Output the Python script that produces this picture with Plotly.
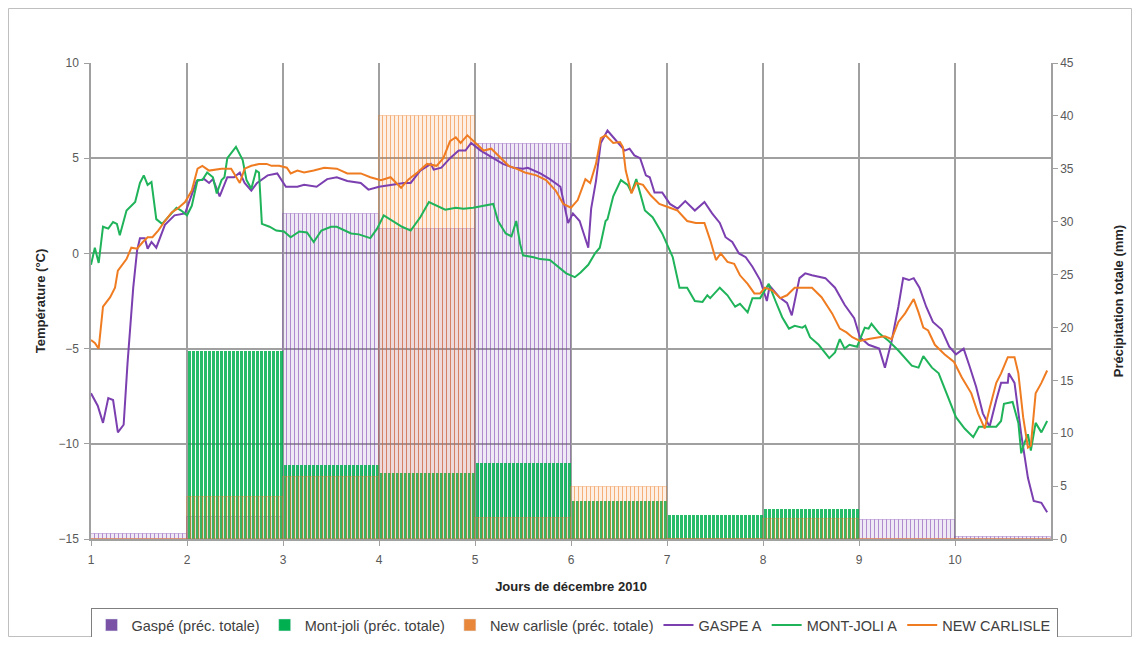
import plotly.graph_objects as go

# ---------------- data ----------------
days = [1, 2, 3, 4, 5, 6, 7, 8, 9, 10]
tick_labels = ["1", "2", "3", "4", "5", "6", "7", "8", "9", "10"]

# daily total precipitation (mm), shown for every hour of the day
precip_gaspe = [0.5, 2.1, 30.7, 29.3, 37.3, 0.0, 0.0, 0.0, 1.8, 0.2]
precip_montjoli = [0.0, 17.8, 7.0, 6.2, 7.2, 3.6, 2.3, 2.8, 0.0, 0.0]
precip_newcarlisle = [0.0, 4.0, 5.9, 40.0, 2.0, 4.9, 0.0, 1.9, 0.0, 0.0]

# hourly temperatures (°C), time in days
t_gaspe = [1.0, 1.07, 1.125, 1.18, 1.23, 1.28, 1.34, 1.38, 1.44, 1.48, 1.51, 1.56, 1.59, 1.63, 1.68, 1.77, 1.87, 1.98,
           2.10, 2.18, 2.23, 2.27, 2.34, 2.42, 2.49, 2.55, 2.60, 2.67, 2.73, 2.84, 2.94, 3.03, 3.15, 3.22, 3.35, 3.46,
           3.56, 3.67, 3.81, 3.89, 4.0, 4.13, 4.26, 4.33, 4.43, 4.54, 4.57, 4.65, 4.74, 4.83, 4.90, 4.96, 5.06, 5.16,
           5.29, 5.40, 5.50, 5.55, 5.68, 5.78, 5.89, 5.97, 6.02, 6.09, 6.18, 6.21, 6.26, 6.31, 6.38, 6.44, 6.49, 6.56,
           6.61, 6.66, 6.72, 6.78, 6.82, 6.87, 6.95, 7.03, 7.11, 7.19, 7.29, 7.39, 7.47, 7.55, 7.61, 7.68, 7.75, 7.82,
           7.89, 7.97, 8.04, 8.07, 8.17, 8.25, 8.30, 8.38, 8.44, 8.51, 8.65, 8.75, 8.85, 8.95, 9.01, 9.10, 9.21, 9.27,
           9.34, 9.41, 9.46, 9.52, 9.57, 9.63, 9.70, 9.77, 9.86, 9.94, 10.01, 10.09, 10.15, 10.22, 10.29, 10.36, 10.43,
           10.48, 10.55, 10.56, 10.62, 10.69, 10.76, 10.82, 10.90, 10.96]
temp_gaspe = [-7.35, -8.0, -8.9, -7.6, -7.7, -9.4, -9.0, -5.8, -1.8, 0.15, 0.8, 0.8, 0.25, 0.6, 0.3, 1.5, 2.0, 2.1,
              3.8, 3.9, 3.7, 3.9, 3.0, 4.0, 4.0, 4.25, 3.7, 3.3, 3.7, 4.1, 4.2, 3.5, 3.5, 3.6, 3.5, 3.9,
              4.0, 3.8, 3.7, 3.35, 3.5, 3.6, 3.7, 3.7, 4.35, 4.7, 4.4, 4.5, 5.0, 5.4, 5.4, 5.8, 5.4, 5.1,
              4.7, 4.5, 4.45, 4.5, 4.2, 3.9, 3.5, 1.6, 2.1, 1.7, 0.3, 2.35, 3.8, 5.8, 6.45, 6.1, 5.8, 5.4,
              5.5, 5.15, 5.0, 4.1, 4.0, 3.2, 3.2, 2.6, 2.35, 2.75, 2.25, 2.7, 2.1, 1.6, 0.85, 0.6, 0.0, -0.2,
              -0.7, -1.4, -2.5, -1.7, -2.3, -2.6, -3.25, -1.3, -1.05, -1.15, -1.3, -1.8, -2.7, -3.4, -4.4, -4.8, -5.0, -6.0,
              -4.6, -2.8, -1.3, -1.4, -1.3, -1.8, -2.8, -3.6, -4.0, -4.9, -5.3, -5.0, -5.9, -7.0, -8.4, -9.1, -7.7,
              -6.8, -6.8, -6.3, -6.8, -9.5, -11.8, -13.0, -13.1, -13.6]

t_montjoli = [1.0, 1.04, 1.08, 1.125, 1.18, 1.23, 1.27, 1.30, 1.37, 1.46, 1.51, 1.55, 1.59, 1.63, 1.68, 1.74, 1.82,
              1.89, 1.94, 2.0, 2.05, 2.11, 2.16, 2.21, 2.27, 2.31, 2.36, 2.39, 2.42, 2.51, 2.58, 2.62, 2.67, 2.72,
              2.75, 2.78, 2.86, 2.93, 3.01, 3.08, 3.17, 3.25, 3.32, 3.40, 3.50, 3.56, 3.71, 3.79, 3.91, 3.98, 4.05,
              4.15, 4.24, 4.33, 4.43, 4.52, 4.60, 4.69, 4.80, 4.88, 4.98, 5.07, 5.19, 5.24, 5.32, 5.38, 5.43, 5.47,
              5.50, 5.61, 5.68, 5.78, 5.84, 5.95, 6.04, 6.10, 6.18, 6.25, 6.30, 6.36, 6.38, 6.44, 6.52, 6.59, 6.63,
              6.68, 6.77, 6.85, 6.95, 7.06, 7.13, 7.21, 7.29, 7.37, 7.42, 7.45, 7.55, 7.63, 7.71, 7.76, 7.84, 7.89,
              7.97, 8.06, 8.13, 8.20, 8.27, 8.33, 8.41, 8.44, 8.49, 8.58, 8.69, 8.75, 8.80, 8.85, 8.90, 8.98, 9.06,
              9.10, 9.13, 9.21, 9.31, 9.41, 9.55, 9.62, 9.67, 9.76, 9.83, 9.93, 10.01, 10.10, 10.19, 10.25, 10.35,
              10.43, 10.48, 10.51, 10.60, 10.66, 10.69, 10.72, 10.76, 10.79, 10.84, 10.90, 10.96]
temp_montjoli = [-0.6, 0.3, -0.5, 1.4, 1.3, 1.65, 1.55, 0.95, 2.25, 2.7, 3.7, 4.1, 3.6, 3.75, 1.8, 1.55, 2.0,
                 2.4, 2.25, 2.0, 2.5, 3.85, 3.85, 4.25, 4.0, 3.15, 3.85, 4.0, 5.0, 5.6, 4.9, 3.85, 3.4, 4.35,
                 4.25, 1.55, 1.4, 1.2, 1.15, 0.85, 1.15, 1.1, 0.6, 1.2, 1.4, 1.4, 1.05, 1.0, 0.8, 1.3, 2.0,
                 1.7, 1.4, 1.2, 1.9, 2.7, 2.5, 2.3, 2.4, 2.35, 2.4, 2.5, 2.6, 1.7, 1.05, 0.9, 1.7, 0.5,
                 -0.1, -0.2, -0.3, -0.35, -0.6, -1.05, -1.25, -1.0, -0.6, 0.0, 0.3, 1.7, 1.8, 3.0, 3.85, 3.6, 3.2,
                 3.9, 2.25, 1.9, 1.05, -0.2, -1.8, -1.8, -2.5, -2.55, -2.2, -2.35, -1.8, -2.2, -2.8, -2.65, -3.1, -2.35,
                 -2.35, -1.6, -2.5, -3.35, -3.95, -3.8, -3.9, -3.8, -4.4, -4.8, -5.5, -5.2, -4.5, -5.0, -4.8, -4.9, -3.9,
                 -3.95, -3.7, -4.2, -4.6, -5.1, -5.9, -6.0, -5.4, -6.0, -6.3, -7.55, -8.6, -9.2, -9.65, -9.1, -9.1,
                 -9.1, -8.8, -7.9, -7.8, -8.9, -10.5, -10.0, -9.5, -10.35, -8.9, -9.4, -8.8]

t_newcarlisle = [1.0, 1.04, 1.08, 1.125, 1.20, 1.25, 1.28, 1.33, 1.37, 1.42, 1.48, 1.54, 1.59, 1.64, 1.70, 1.77, 1.84,
                 1.90, 1.98, 2.05, 2.11, 2.16, 2.23, 2.36, 2.46, 2.55, 2.60, 2.67, 2.75, 2.83, 2.88, 2.96, 3.04, 3.08,
                 3.15, 3.22, 3.32, 3.43, 3.56, 3.67, 3.81, 3.91, 4.02, 4.12, 4.23, 4.31, 4.40, 4.50, 4.60, 4.67, 4.74,
                 4.80, 4.85, 4.92, 5.00, 5.09, 5.17, 5.26, 5.35, 5.43, 5.52, 5.64, 5.74, 5.84, 5.92, 6.00, 6.07, 6.15,
                 6.20, 6.26, 6.31, 6.36, 6.44, 6.51, 6.54, 6.57, 6.63, 6.68, 6.75, 6.83, 6.92, 7.03, 7.11, 7.21, 7.30,
                 7.39, 7.45, 7.51, 7.56, 7.63, 7.70, 7.76, 7.84, 7.91, 7.97, 8.02, 8.10, 8.18, 8.25, 8.33, 8.42, 8.51,
                 8.61, 8.72, 8.80, 8.87, 8.93, 9.01, 9.10, 9.21, 9.27, 9.34, 9.41, 9.48, 9.57, 9.62, 9.67, 9.72, 9.79,
                 9.89, 9.99, 10.07, 10.17, 10.24, 10.31, 10.36, 10.43, 10.48, 10.55, 10.62, 10.66, 10.71, 10.76, 10.79,
                 10.84, 10.90, 10.96]
temp_newcarlisle = [-4.55, -4.7, -5.0, -2.8, -2.3, -1.8, -0.9, -0.6, -0.3, 0.3, 0.25, 0.6, 0.85, 0.85, 1.2, 1.7, 2.15,
                    2.35, 2.7, 3.3, 4.45, 4.6, 4.35, 4.45, 4.45, 3.7, 4.45, 4.6, 4.7, 4.7, 4.6, 4.6, 4.5, 4.2,
                    4.35, 4.25, 4.35, 4.5, 4.45, 4.2, 4.2, 4.0, 3.85, 4.0, 3.45, 3.9, 4.25, 4.7, 4.6, 5.0, 5.9,
                    6.1, 5.8, 6.2, 5.8, 5.4, 5.5, 5.05, 4.6, 4.45, 4.25, 4.1, 3.85, 3.3, 2.6, 2.4, 2.8, 3.9,
                    3.7, 4.7, 6.05, 6.2, 5.8, 5.85, 5.6, 4.35, 3.15, 3.7, 3.6, 3.05, 2.6, 2.4, 2.25, 1.7, 1.6,
                    1.6, 0.7, -0.35, 0.0, -0.45, -0.55, -1.15, -1.6, -2.1, -2.1, -1.8, -1.95, -2.35, -2.2, -1.8, -1.8, -1.8,
                    -2.3, -3.15, -3.95, -4.15, -4.4, -4.6, -4.5, -4.4, -4.35, -4.5, -3.6, -3.15, -2.4, -3.1, -3.9, -4.05, -4.8,
                    -5.3, -5.7, -6.5, -7.35, -8.4, -9.2, -8.15, -6.8, -6.3, -5.45, -5.45, -6.3, -8.6, -10.2, -10.1,
                    -7.35, -6.8, -6.15]

# ---------------- styling ----------------
PURPLE = "#7b3fb0"
GREEN = "#1fb35a"
ORANGE = "#f07c22"
GRID = "#a0a0a0"
TICKFONT = dict(family="Liberation Sans, Arial, sans-serif", size=12, color="#595959")
HOURS = 24


def hourly(daily):
    xs, ys = [], []
    for d, v in zip(days, daily):
        for h in range(HOURS):
            xs.append(d + (h + 0.5) / HOURS)
            ys.append(v)
    return xs, ys


fig = go.Figure()

# precipitation bars (on 'y' axis, placed at right)
xg, yg = hourly(precip_gaspe)
fig.add_trace(go.Bar(x=xg, y=yg, width=1.0 / HOURS, yaxis="y", showlegend=False,
                     marker=dict(color="rgba(123,63,176,0.12)", line=dict(color="rgba(123,63,176,0.33)", width=1)),
                     hoverinfo="skip"))
xm, ym = hourly(precip_montjoli)
fig.add_trace(go.Bar(x=xm, y=ym, width=0.75 / HOURS, yaxis="y", showlegend=False,
                     marker=dict(color="rgba(0,176,80,0.85)", line=dict(width=0)),
                     hoverinfo="skip"))
xn, yn = hourly(precip_newcarlisle)
fig.add_trace(go.Bar(x=xn, y=yn, width=1.0 / HOURS, yaxis="y", showlegend=False,
                     marker=dict(color="rgba(240,124,34,0.12)", line=dict(color="rgba(240,124,34,0.33)", width=1)),
                     hoverinfo="skip"))

# legend entries for bars
for name, col in [("Gaspé (préc. totale)", "#7a52a6"), ("Mont-joli (préc. totale)", "#00b050"),
                  ("New carlisle (préc. totale)", "#e8873a")]:
    fig.add_trace(go.Bar(x=[None], y=[None], name=name, yaxis="y", marker=dict(color=col)))

# temperature lines (on 'y2', overlaying, placed at left)
for name, tx, ty, col in [("GASPE A", t_gaspe, temp_gaspe, PURPLE),
                          ("MONT-JOLI A", t_montjoli, temp_montjoli, GREEN),
                          ("NEW CARLISLE", t_newcarlisle, temp_newcarlisle, ORANGE)]:
    fig.add_trace(go.Scatter(x=tx, y=ty, name=name, mode="lines", yaxis="y2",
                             line=dict(color=col, width=2)))

# page has an 8px body margin
W, H = 1124, 629
L, T = 83, 55
PW, PH = 960, 476
R, B = W - L - PW, H - T - PH


def px_x(p):
    return (p - L) / PW


def px_y(p):
    return (T + PH - p) / PH


fig.update_layout(
    width=W, height=H,
    margin=dict(l=L, r=R, t=T, b=B, autoexpand=False),
    paper_bgcolor="white", plot_bgcolor="white",
    barmode="overlay", bargap=0,
    font=dict(family="Liberation Sans, Arial, sans-serif", size=12, color="#262626"),
    xaxis=dict(range=[1, 11], tickvals=days, ticktext=tick_labels, showgrid=True, gridcolor=GRID,
               gridwidth=1.5, showline=True, linecolor=GRID, linewidth=1.5, ticks="outside",
               ticklen=5, tickcolor=GRID, tickfont=TICKFONT, zeroline=False, ticklabelstandoff=4,
               title=dict(text="<b>Jours de décembre 2010</b>", font=dict(size=13, color="#262626"), standoff=16)),
    yaxis=dict(range=[0, 45], dtick=5, side="right", showgrid=False, zeroline=False,
               showline=True, linecolor=GRID, linewidth=1.5, ticks="outside", ticklen=5, tickcolor=GRID,
               tickfont=TICKFONT,
               title=dict(text="<b>Précipitation totale (mm)</b>", font=dict(size=13, color="#262626"), standoff=41)),
    yaxis2=dict(range=[-15, 10], dtick=5, side="left", overlaying="y", showgrid=True, gridcolor=GRID,
                gridwidth=1.5, zeroline=False, showline=True, linecolor=GRID, linewidth=1.5,
                ticks="outside", ticklen=5, tickcolor=GRID, tickfont=TICKFONT, ticklabelstandoff=3,
                title=dict(text="<b>Température (°C)</b>", font=dict(size=13, color="#262626"), standoff=10)),
    legend=dict(orientation="h", x=-0.0005, xanchor="left", y=px_y(600), yanchor="top",
                bordercolor="#7f7f7f", borderwidth=1, font=dict(size=14.5, color="#404040"),
                traceorder="normal"),
    shapes=[dict(type="rect", xref="paper", yref="paper", x0=px_x(0.5), x1=px_x(W - 0.5),
                 y0=px_y(H - 0.5), y1=px_y(0.5),
                 line=dict(color="#bfbfbf", width=1), fillcolor="rgba(0,0,0,0)", layer="below")],
)

fig.write_html("out.html")
